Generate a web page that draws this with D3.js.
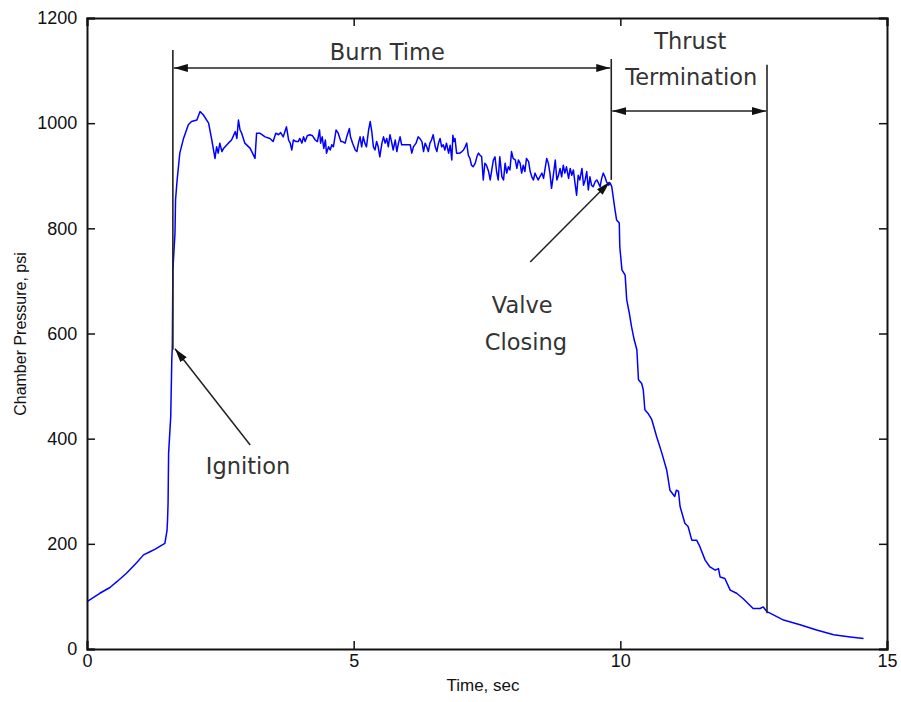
<!DOCTYPE html>
<html>
<head>
<meta charset="utf-8">
<script src="https://cdn.jsdelivr.net/npm/d3@7/dist/d3.min.js"></script>
<style>
  html, body { margin: 0; padding: 0; background: #fff; }
  svg { display: block; }
</style>
</head>
<body>
<svg id="chart" width="901" height="702"></svg>
<script>
// ---------------- data ----------------
const timeSec = [
  0.00,0.24,0.43,0.56,0.74,0.93,1.06,1.18,1.28,1.38,1.46,1.50,1.51,1.52,1.53,1.57,1.59,1.60,1.61,1.65,
  1.66,1.69,1.74,1.81,1.90,1.96,2.06,2.12,2.18,2.28,2.34,2.40,2.43,2.46,2.49,2.53,2.56,2.65,2.71,2.78,
  2.81,2.84,2.87,2.90,2.96,3.06,3.15,3.18,3.24,3.34,3.43,3.49,3.54,3.59,3.63,3.68,3.74,3.78,
  3.81,3.84,3.87,3.92,3.96,3.99,4.03,4.06,4.09,4.13,4.18,4.23,4.28,4.32,4.36,4.38,4.41,4.44,4.47,4.49,
  4.53,4.56,4.59,4.62,4.67,4.71,4.76,4.79,4.84,4.87,4.92,4.94,4.98,5.03,5.06,5.09,5.12,5.15,5.18,5.21,
  5.24,5.28,5.31,5.34,5.37,5.40,5.43,5.46,5.49,5.53,5.56,5.59,5.62,5.65,5.68,5.71,5.74,5.78,5.81,5.84,
  5.87,5.90,5.93,5.99,6.06,6.09,6.12,6.17,6.21,6.24,6.28,6.31,6.34,6.37,6.40,6.43,6.46,6.49,6.53,6.56,
  6.59,6.62,6.65,6.68,6.71,6.74,6.78,
  6.81,6.84,6.86,6.88,6.90,6.93,6.96,6.99,7.03,7.06,7.09,7.12,7.15,7.18,7.21,7.24,7.28,7.31,7.34,7.37,
  7.40,7.43,7.46,7.49,7.53,7.56,7.59,7.62,7.65,7.68,7.71,7.74,7.78,7.81,7.84,7.87,7.90,7.93,7.96,7.99,
  8.03,8.06,8.09,8.12,8.15,8.18,8.21,8.24,8.28,8.31,8.34,8.37,8.40,8.43,8.46,8.49,8.53,8.56,8.59,8.62,
  8.65,8.68,8.71,8.74,8.78,8.81,8.84,8.87,8.90,8.93,8.96,8.99,9.03,9.06,9.09,9.12,9.15,9.18,9.21,9.24,
  9.28,9.31,9.34,9.37,9.40,9.43,9.46,9.49,9.53,9.56,9.59,9.62,9.65,9.68,9.71,9.74,9.78,9.81,9.84,
  9.87,9.90,9.93,9.98,9.99,10.03,10.09,10.12,10.17,10.21,10.26,10.31,10.32,10.34,10.40,10.43,10.46,10.52,10.59,10.68,
  10.78,10.87,10.93,11.02,11.05,11.09,11.12,11.21,11.27,11.34,11.43,11.49,11.59,11.68,11.78,11.84,11.87,11.96,12.06,12.18,
  12.30,12.49,12.62,12.68,12.75,12.87,13.06,13.37,13.68,14.00,14.31,14.56
];
const pressurePsi = [
  90,106,117,128,144,164,179,185,190,196,201,225,245,277,372,442,550,575,721,791,
  854,892,943,971,997,1003,1006,1022,1016,1000,968,933,955,943,962,946,952,962,968,984,
  971,1006,987,981,962,952,933,981,981,974,971,965,981,978,982,974,993,968,
  962,949,968,965,965,971,962,974,965,976,978,976,968,965,987,962,974,952,968,943,
  955,949,959,955,987,981,965,965,962,974,990,974,962,949,946,962,974,955,974,962,
  955,987,1003,984,955,949,965,955,936,962,974,962,971,955,978,965,949,968,946,962,
  974,959,959,959,959,943,955,962,974,971,965,946,962,955,946,962,968,978,955,946,
  962,971,955,959,949,962,943,
  958,930,977,965,971,943,943,943,946,949,955,962,939,933,920,917,924,936,943,939,
  936,892,924,920,908,892,911,930,936,908,892,936,898,892,924,905,917,911,946,933,
  930,914,930,924,905,920,908,933,927,908,898,892,905,898,892,898,905,895,914,933,
  924,905,876,898,930,892,901,914,898,920,905,917,895,914,901,911,886,863,901,892,
  914,882,892,908,873,898,882,879,889,892,886,879,895,905,898,889,882,886,879,
  857,835,816,810,765,721,711,664,638,613,588,569,550,512,505,493,455,448,436,404,
  372,340,302,290,302,300,271,239,233,207,207,195,169,156,150,153,137,134,112,106,
  96,77,77,80,71,65,55,46,36,27,23,20
];
const xTicks = [0, 5, 10, 15];
const yTicks = [0, 200, 400, 600, 800, 1000, 1200];
const xLabel = "Time, sec";
const yLabel = "Chamber Pressure, psi";

// annotation values (in data units)
const eventTimes = [1.61, 9.83, 12.75];            // ignition, valve closing, thrust termination
const eventLineTop = [1139, 1122, 1111];
const eventLineBottom = [569, 892, 68];
const burnArrowLevel = 1105;
const termArrowLevel = 1023;
const ignitionArrow = [[3.06, 388], [1.65, 571]];  // tail -> tip
const valveArrow = [[8.31, 736], [9.80, 888]];
const labels = [
  {text: "Burn Time",   t: 5.63,  p: 1120},
  {text: "Thrust",      t: 11.31, p: 1141},
  {text: "Termination", t: 11.33, p: 1073},
  {text: "Ignition",    t: 3.02,  p: 333},
  {text: "Valve",       t: 8.16,  p: 639},
  {text: "Closing",     t: 8.23,  p: 569}
];

// ---------------- chart ----------------
const svg = d3.select("#chart");
const L = 87, R = 887, T = 18, B = 649;
const x = d3.scaleLinear().domain([0, 15]).range([L, R]);
const y = d3.scaleLinear().domain([0, 1200]).range([B, T]);

const defs = svg.append("defs");
defs.append("marker")
  .attr("id", "ah").attr("viewBox", "0 0 14 8")
  .attr("refX", 14).attr("refY", 4)
  .attr("markerWidth", 14).attr("markerHeight", 8)
  .attr("markerUnits", "userSpaceOnUse")
  .attr("orient", "auto-start-reverse")
  .append("path").attr("d", "M0,0 L14,4 L0,8 Z").attr("fill", "#111");

// data line
const data = timeSec.map((t, i) => [t, pressurePsi[i]]);
svg.append("path")
  .datum(data)
  .attr("fill", "none")
  .attr("stroke", "#0000ff")
  .attr("stroke-width", 1.5)
  .attr("stroke-linejoin", "round")
  .attr("d", d3.line().x(d => x(d[0])).y(d => y(d[1])));

// axes (ticks inward on all four sides)
const fontTick = "'Liberation Sans', Arial, sans-serif";
const axB = svg.append("g").attr("transform", `translate(0,${B})`)
  .call(d3.axisBottom(x).tickValues(xTicks).tickSize(-8).tickPadding(8).tickFormat(d3.format("d")));
const axT = svg.append("g").attr("transform", `translate(0,${T})`)
  .call(d3.axisTop(x).tickValues(xTicks).tickSize(-8).tickFormat(""));
const axL = svg.append("g").attr("transform", `translate(${L},0)`)
  .call(d3.axisLeft(y).tickValues(yTicks).tickSize(-8).tickPadding(8).tickFormat(d3.format("d")));
const axR = svg.append("g").attr("transform", `translate(${R},0)`)
  .call(d3.axisRight(y).tickValues(yTicks).tickSize(-8).tickFormat(""));
[axB, axT, axL, axR].forEach(g => {
  g.select(".domain").attr("stroke", "#111").attr("stroke-width", 2);
  g.selectAll(".tick line").attr("stroke", "#111").attr("stroke-width", 1.5);
  g.selectAll(".tick text").attr("fill", "#111").attr("font-family", fontTick).attr("font-size", 18);
});
axL.selectAll(".tick text").attr("dx", "-0.1em");
axB.selectAll(".tick text").attr("dy", "0.55em");

// axis labels
svg.append("text")
  .attr("x", 483).attr("y", 691)
  .attr("text-anchor", "middle")
  .attr("font-family", fontTick).attr("font-size", 17).attr("fill", "#111")
  .text(xLabel);
svg.append("text")
  .attr("transform", "translate(26,334) rotate(-90)")
  .attr("text-anchor", "middle")
  .attr("font-family", fontTick).attr("font-size", 16).attr("fill", "#111")
  .text(yLabel);

// annotation vertical lines
svg.selectAll("line.event")
  .data(eventTimes)
  .enter().append("line")
  .attr("class", "event")
  .attr("x1", d => x(d)).attr("x2", d => x(d))
  .attr("y1", (d, i) => y(eventLineTop[i]))
  .attr("y2", (d, i) => y(eventLineBottom[i]))
  .attr("stroke", "#222").attr("stroke-width", 1.6);

// double-headed arrows
function dblArrow(t1, t2, p) {
  svg.append("line")
    .attr("x1", x(t1) + 1).attr("x2", x(t2) - 1)
    .attr("y1", y(p)).attr("y2", y(p))
    .attr("stroke", "#222").attr("stroke-width", 1.5)
    .attr("marker-start", "url(#ah)").attr("marker-end", "url(#ah)");
}
dblArrow(eventTimes[0], eventTimes[1], burnArrowLevel);
dblArrow(eventTimes[1], eventTimes[2], termArrowLevel);

// pointer arrows
[ignitionArrow, valveArrow].forEach(a => {
  svg.append("line")
    .attr("x1", x(a[0][0])).attr("y1", y(a[0][1]))
    .attr("x2", x(a[1][0])).attr("y2", y(a[1][1]))
    .attr("stroke", "#222").attr("stroke-width", 1.5)
    .attr("marker-end", "url(#ah)");
});

// annotation text
svg.selectAll("text.ann")
  .data(labels)
  .enter().append("text")
  .attr("class", "ann")
  .attr("x", d => x(d.t)).attr("y", d => y(d.p))
  .attr("text-anchor", "middle")
  .attr("font-family", "'DejaVu Sans', Verdana, sans-serif")
  .attr("font-size", 22.5)
  .attr("fill", "#333")
  .text(d => d.text);
</script>
</body>
</html>
